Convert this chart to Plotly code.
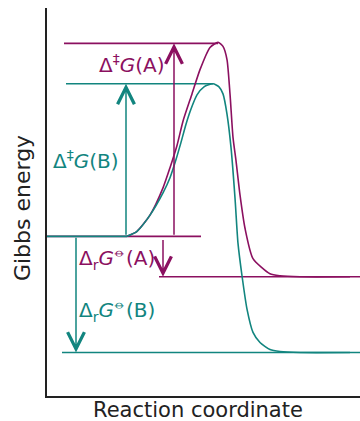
import plotly.graph_objects as go

# Colores de las dos reacciones
MAGENTA = '#8b1060'
TEAL = '#12857f'
FONT = 'DejaVu Sans'

# Niveles de energía (unidades arbitrarias)
g_reactant = 158
g_ts_a = 349
g_ts_b = 309
g_prod_a = 118
g_prod_b = 43

# Perfil de la reacción A
coord_a = [80, 90, 103, 116, 123, 130, 136, 145, 153, 163, 171, 176, 180, 183, 186, 189, 193,
           198, 206, 223, 233, 253, 303]
energy_a = [158, 163, 179, 206, 226, 248, 272, 299, 323, 345, 350, 346, 333, 299, 256, 233, 199,
            166, 136, 121, 119, 118, 118]

# Perfil de la reacción B
coord_b = [80, 90, 103, 116, 123, 129, 134, 139, 144, 150, 157, 166, 172, 176, 180, 184, 188,
           191, 195, 200, 206, 213, 223, 233, 253, 303]
energy_b = [158, 163, 179, 201, 216, 234, 251, 269, 284, 298, 306, 309, 306, 299, 279, 246, 196,
            151, 119, 86, 63, 53, 46, 44, 43, 43]

# Líneas horizontales de nivel: (x inicio, x fin, nivel, color)
level_lines = [
    (0, 154, g_reactant, MAGENTA),
    (0, 80, g_reactant, TEAL),
    (17, 171, g_ts_a, MAGENTA),
    (19, 166, g_ts_b, TEAL),
    (112, 313, g_prod_a, MAGENTA),
    (15, 313, g_prod_b, TEAL),
]

# Flechas: (x, desde, hasta, color)
arrows = [
    (127, g_reactant, g_ts_a, MAGENTA),
    (79, g_reactant, g_ts_b, TEAL),
    (116, g_reactant - 2, g_prod_a, MAGENTA),
    (29, g_reactant, g_prod_b, TEAL),
]

# Etiquetas: (x, y, texto, color)
labels = [
    (50, 329, 'Δ<sup>‡</sup><i>G</i>(A)', MAGENTA),
    (4, 234, 'Δ<sup>‡</sup><i>G</i>(B)', TEAL),
    (30, 136, 'Δ<sub>r</sub><i>G</i><sup>⦵</sup>(A)', MAGENTA),
    (30, 85, 'Δ<sub>r</sub><i>G</i><sup>⦵</sup>(B)', TEAL),
]

fig = go.Figure()

for x0, x1, lvl, col in level_lines:
    fig.add_trace(go.Scatter(x=[x0, x1], y=[lvl, lvl], mode='lines',
                             line=dict(color=col, width=1.6), hoverinfo='skip'))

fig.add_trace(go.Scatter(x=coord_a, y=energy_a, mode='lines',
                         line=dict(color=MAGENTA, width=1.6, shape='spline', smoothing=0.6)))
fig.add_trace(go.Scatter(x=coord_b, y=energy_b, mode='lines',
                         line=dict(color=TEAL, width=1.6, shape='spline', smoothing=0.6)))

for x, y0, y1, col in arrows:
    fig.add_annotation(x=x, y=y1, ax=x, ay=y0, axref='x', ayref='y', xref='x', yref='y',
                       text='', showarrow=True, arrowhead=5, arrowsize=2.2, arrowwidth=1.5,
                       arrowcolor=col, standoff=0, startstandoff=0)

for x, y, txt, col in labels:
    fig.add_annotation(x=x, y=y, text=txt, showarrow=False, xanchor='left', yanchor='middle',
                       font=dict(family=FONT, size=20, color=col))

# Títulos de los ejes
fig.add_annotation(x=0, y=186, xref='paper', yref='y', xshift=-25, text='Gibbs energy',
                   xanchor='center', yanchor='middle',
                   textangle=-90, showarrow=False, font=dict(family=FONT, size=22, color='#222'))
fig.add_annotation(x=151, y=0, xref='x', yref='paper', yshift=-14, text='Reaction coordinate',
                   showarrow=False, yanchor='middle', font=dict(family=FONT, size=21, color='#222'))

fig.update_layout(
    width=360, height=421,
    margin=dict(l=47, r=0, t=8, b=25),
    paper_bgcolor='white', plot_bgcolor='white',
    showlegend=False,
    xaxis=dict(range=[0, 313], showgrid=False, zeroline=False, showticklabels=False, ticks='',
               showline=True, linecolor='#222', linewidth=2),
    yaxis=dict(range=[0, 384], showgrid=False, zeroline=False, showticklabels=False, ticks='',
               showline=True, linecolor='#222', linewidth=2),
)

fig.write_html('out.html', config={'displayModeBar': False},
               post_script="document.body.style.margin='0';")
